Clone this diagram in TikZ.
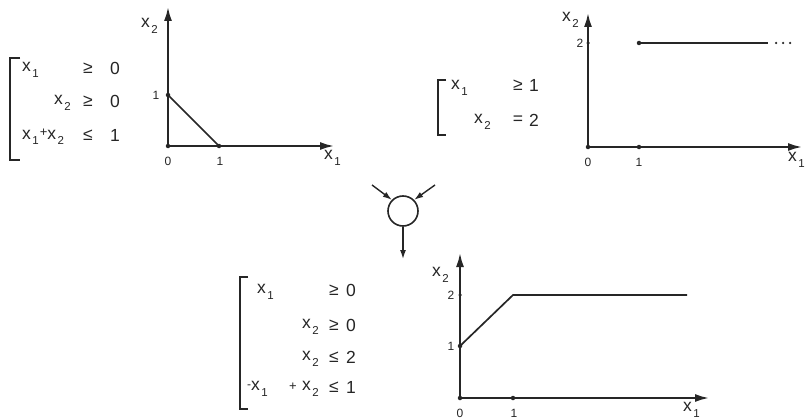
\documentclass[tikz,border=0pt]{standalone}
\usepackage{fontspec}
\setmainfont{Liberation Sans}
\usetikzlibrary{arrows.meta}
\newcommand{\xv}[1]{x\kern1.5pt\raisebox{-0.6ex}{\fontsize{11.5}{12}\selectfont #1}}
\begin{document}
\begin{tikzpicture}[x=1pt,y=-1pt,
  ink/.style={draw=black!85,line width=2pt},
  axis/.style={ink,-{Latex[length=14pt,width=8pt]}},
  txt/.style={inner sep=0pt,text=black!85,font=\fontsize{17.5}{20}\selectfont},
  tick/.style={inner sep=0pt,text=black!85,font=\fontsize{12}{13}\selectfont},
  dot/.style={circle,fill=black!85,inner sep=0pt,minimum size=4.5pt},
  brk/.style={draw=black!85,line width=2.2pt}]
\useasboundingbox (0,0) rectangle (812,420);
\fill[white] (0,0) rectangle (812,420);

% ---------- top-left system ----------
\draw[brk] (20,58) -- (10,58) -- (10,160) -- (20,160);
\node[txt,anchor=west] (a1) at (22,70) {\xv{1}};
\node[txt] (a1r) at (88,68) {≥};
\node[txt] (a1c) at (115,68) {0};
\node[txt,anchor=west] (a2) at (54,103) {\xv{2}};
\node[txt] (a2r) at (88,101) {≥};
\node[txt] (a2c) at (115,101) {0};
\node[txt,anchor=west] (a3) at (22,137) {\xv{1}\kern1pt\raisebox{0.3ex}{\fontsize{13}{14}\selectfont+}\xv{2}};
\node[txt] (a3r) at (88,135) {≤};
\node[txt] (a3c) at (115,135) {1};

% ---------- top-left graph ----------
\coordinate (o1) at (168,146);
\coordinate (y1) at (168,7);
\coordinate (x1e) at (334,146);
\draw[axis] (o1) -- (y1);
\draw[axis] (o1) -- (x1e);
\node[dot] (p1a) at (168,95) {};
\node[dot] (p1b) at (219,146) {};
\node[dot] (p1o) at (168,146) {};
\draw[ink,line width=1.7pt] (p1a.center) -- (p1b.center);
\node[txt,anchor=west] (l1y) at (141,26) {\xv{2}};
\node[tick] (t1a) at (156,95) {1};
\node[tick] (t1o) at (168,161) {0};
\node[tick] (t1b) at (220,161) {1};
\node[txt,anchor=west] (l1x) at (324,158) {\xv{1}};

% ---------- top-right system ----------
\draw[brk] (446,80) -- (438,80) -- (438,135) -- (446,135);
\node[txt,anchor=west] (b1) at (451,88) {\xv{1}};
\node[txt] (b1r) at (518,85) {≥};
\node[txt] (b1c) at (534,85) {1};
\node[txt,anchor=west] (b2) at (474,122) {\xv{2}};
\node[txt] (b2r) at (518,120) {=};
\node[txt] (b2c) at (534,120) {2};

% ---------- top-right graph ----------
\coordinate (o2) at (588,147);
\coordinate (y2) at (588,13);
\coordinate (x2e) at (802,147);
\draw[axis] (o2) -- (y2);
\draw[axis] (o2) -- (x2e);
\node[dot] (p2a) at (639,43) {};
\node[dot] (p2t) at (639,147) {};
\node[dot] (p2o) at (588,147) {};
\node[dot,minimum size=3.5pt] (p2y) at (588,43) {};
\coordinate (p2e) at (768,43);
\draw[ink,line width=1.7pt] (p2a.center) -- (p2e);
\node[dot,minimum size=2.5pt] (d1) at (776,43) {};
\node[dot,minimum size=2.5pt] (d2) at (783,43) {};
\node[dot,minimum size=2.5pt] (d3) at (790,43) {};
\node[txt,anchor=west] (l2y) at (562,20) {\xv{2}};
\node[tick] (t2y) at (580,43) {2};
\node[tick] (t2o) at (588,162) {0};
\node[tick] (t2b) at (639,162) {1};
\node[txt,anchor=west] (l2x) at (788,160) {\xv{1}};

% ---------- combination node ----------
\node[circle,draw=black!85,line width=1.6pt,minimum size=30pt,inner sep=0pt] (c) at (403,211) {};
\coordinate (in1) at (372,185);
\coordinate (in2) at (435,185);
\coordinate (out) at (403,259);
\draw[draw=black!85,line width=1.4pt,-{Latex[length=9pt,width=6pt]}] (in1) -- (c.135);
\draw[draw=black!85,line width=1.4pt,-{Latex[length=9pt,width=6pt]}] (in2) -- (c.45);
\draw[draw=black!85,line width=1.4pt,-{Latex[length=9pt,width=6pt]}] (c.south) -- (out);

% ---------- bottom system ----------
\draw[brk] (248,277) -- (240,277) -- (240,409) -- (248,409);
\node[txt,anchor=west] (c1) at (257,292) {\xv{1}};
\node[txt] (c1r) at (334,290) {≥};
\node[txt] (c1c) at (351,290) {0};
\node[txt,anchor=west] (c2) at (302,327) {\xv{2}};
\node[txt] (c2r) at (334,325) {≥};
\node[txt] (c2c) at (351,325) {0};
\node[txt,anchor=west] (c3) at (302,359) {\xv{2}};
\node[txt] (c3r) at (334,357) {≤};
\node[txt] (c3c) at (351,357) {2};
\node[txt,anchor=west] (c4) at (247,389) {\raisebox{0.3ex}{\fontsize{12}{13}\selectfont -}\xv{1}};
\node[txt] (c4p) at (293,387) {\fontsize{13}{14}\selectfont +};
\node[txt,anchor=west] (c4b) at (302,389) {\xv{2}};
\node[txt] (c4r) at (334,387) {≤};
\node[txt] (c4c) at (351,387) {1};

% ---------- bottom graph ----------
\coordinate (o3) at (460,398);
\coordinate (y3) at (460,253);
\coordinate (x3e) at (709,398);
\draw[axis] (o3) -- (y3);
\draw[axis] (o3) -- (x3e);
\node[dot] (p3a) at (460,346) {};
\node[dot,minimum size=3.5pt] (p3y) at (460,295) {};
\node[dot] (p3t) at (513,398) {};
\node[dot] (p3o) at (460,398) {};
\coordinate (p3k) at (513,295);
\coordinate (p3e) at (687,295);
\draw[ink,line width=1.7pt] (p3a.center) -- (p3k) -- (p3e);
\node[txt,anchor=west] (l3y) at (432,275) {\xv{2}};
\node[tick] (t3y) at (451,295) {2};
\node[tick] (t3a) at (451,346) {1};
\node[tick] (t3o) at (460,413) {0};
\node[tick] (t3b) at (514,413) {1};
\node[txt,anchor=west] (l3x) at (683,410) {\xv{1}};
\end{tikzpicture}
\end{document}
